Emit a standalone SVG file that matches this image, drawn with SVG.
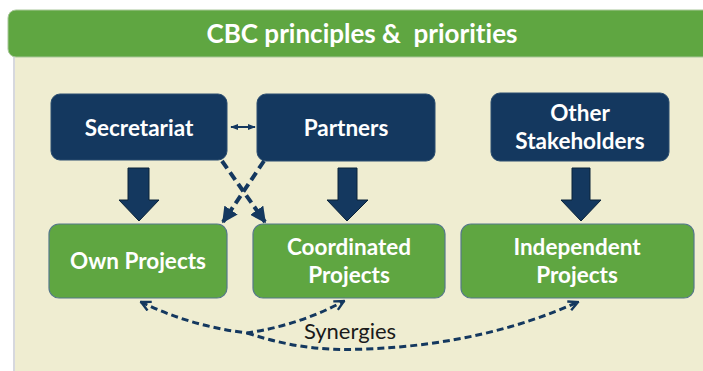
<svg xmlns="http://www.w3.org/2000/svg" width="703" height="371" viewBox="0 0 703 371">
<style>
text{font-variant-ligatures:none;font-feature-settings:"liga" 0,"dlig" 0}
.lbl{font-family:Lato,"Open Sans","Liberation Sans",sans-serif;font-weight:bold;font-size:22.5px;fill:#ffffff;text-anchor:middle}
.navy{fill:#14385f;stroke:#2a4d70;stroke-width:1}
.green{fill:#5fa641;stroke:#55788a;stroke-width:1.2}
.blk{fill:#14385f;stroke:#0a2238;stroke-width:1}
.dash{fill:none;stroke:#14385f;stroke-width:4;stroke-dasharray:9 5}
.syn{fill:none;stroke:#14385f;stroke-width:3;stroke-dasharray:7 4}
</style>
<defs>
<marker id="tri" viewBox="0 0 10 10" refX="9" refY="5" markerWidth="4" markerHeight="4" orient="auto" markerUnits="strokeWidth">
<path d="M0,0 L10,5 L0,10 z" fill="#14385f"/>
</marker>
<marker id="chev" viewBox="0 0 10 10" refX="9" refY="5" markerWidth="4" markerHeight="4" orient="auto-start-reverse" markerUnits="strokeWidth">
<path d="M1,1 L9,5 L1,9" fill="none" stroke="#14385f" stroke-width="2"/>
</marker>
<marker id="sm" viewBox="0 0 10 10" refX="9" refY="5" markerWidth="4" markerHeight="4" orient="auto-start-reverse" markerUnits="strokeWidth">
<path d="M0,1 L10,5 L0,9 z" fill="#14385f"/>
</marker>
</defs>
<rect x="0" y="0" width="703" height="371" fill="#ffffff"/>
<rect x="13" y="50" width="700" height="330" fill="#efedd1"/>
<rect x="13" y="57" width="2" height="314" fill="#d6d8de"/>
<g id="header">
<rect x="8" y="10" width="720" height="47" rx="8" fill="#5fa641" stroke="#a9c79a" stroke-width="1"/>
<text x="362" y="43" xml:space="preserve" font-family="Lato,'Open Sans','Liberation Sans',sans-serif" font-size="26" font-weight="bold" fill="#ffffff" text-anchor="middle">CBC principles &amp;  priorities</text>
</g>
<g id="secretariat">
<rect class="navy" x="51" y="94" width="176" height="66" rx="9"/>
<text class="lbl" x="139" y="136">Secretariat</text>
</g>
<g id="partners">
<rect class="navy" x="257" y="94" width="178" height="67" rx="9"/>
<text class="lbl" x="346" y="136">Partners</text>
</g>
<g id="other">
<rect class="navy" x="491" y="93" width="178" height="68" rx="9"/>
<text class="lbl" x="580" y="121">Other</text>
<text class="lbl" x="580" y="149">Stakeholders</text>
</g>
<g id="own">
<rect class="green" x="49" y="224" width="178" height="74" rx="10"/>
<text class="lbl" x="138" y="269">Own Projects</text>
</g>
<g id="coordinated">
<rect class="green" x="253" y="224" width="192" height="74" rx="10"/>
<text class="lbl" x="349" y="255">Coordinated</text>
<text class="lbl" x="349" y="283">Projects</text>
</g>
<g id="independent">
<rect class="green" x="461" y="224" width="233" height="74" rx="10"/>
<text class="lbl" x="577" y="255">Independent</text>
<text class="lbl" x="577" y="283">Projects</text>
</g>
<g id="connectors">
<polygon class="blk" points="128,168 149,168 149,200 159,200 139,221 119,200 128,200"/>
<polygon class="blk" points="338,168 357,168 357,200 368,200 347,221 327,200 338,200"/>
<polygon class="blk" points="572,168 590,168 590,200 601,200 581,221 561,200 572,200"/>
<line x1="231" y1="127" x2="255" y2="127" stroke="#14385f" stroke-width="2" marker-start="url(#sm)" marker-end="url(#sm)"/>
<line class="dash" x1="222" y1="161" x2="265" y2="222" marker-end="url(#tri)"/>
<line class="dash" x1="264" y1="161" x2="223" y2="222" marker-end="url(#tri)"/>
<path class="syn" d="M141,302 Q190,326 247,333 Q300,325 344,301" marker-start="url(#chev)" marker-end="url(#chev)"/>
<path class="syn" d="M247,333 C290,347 325,351 365,349 C450,346 520,328 578,302" marker-end="url(#chev)"/>
<text x="350" y="339" font-family="Lato,'Open Sans','Liberation Sans',sans-serif" font-size="22" fill="#1a1a1a" text-anchor="middle">Synergies</text>
</g>
</svg>
